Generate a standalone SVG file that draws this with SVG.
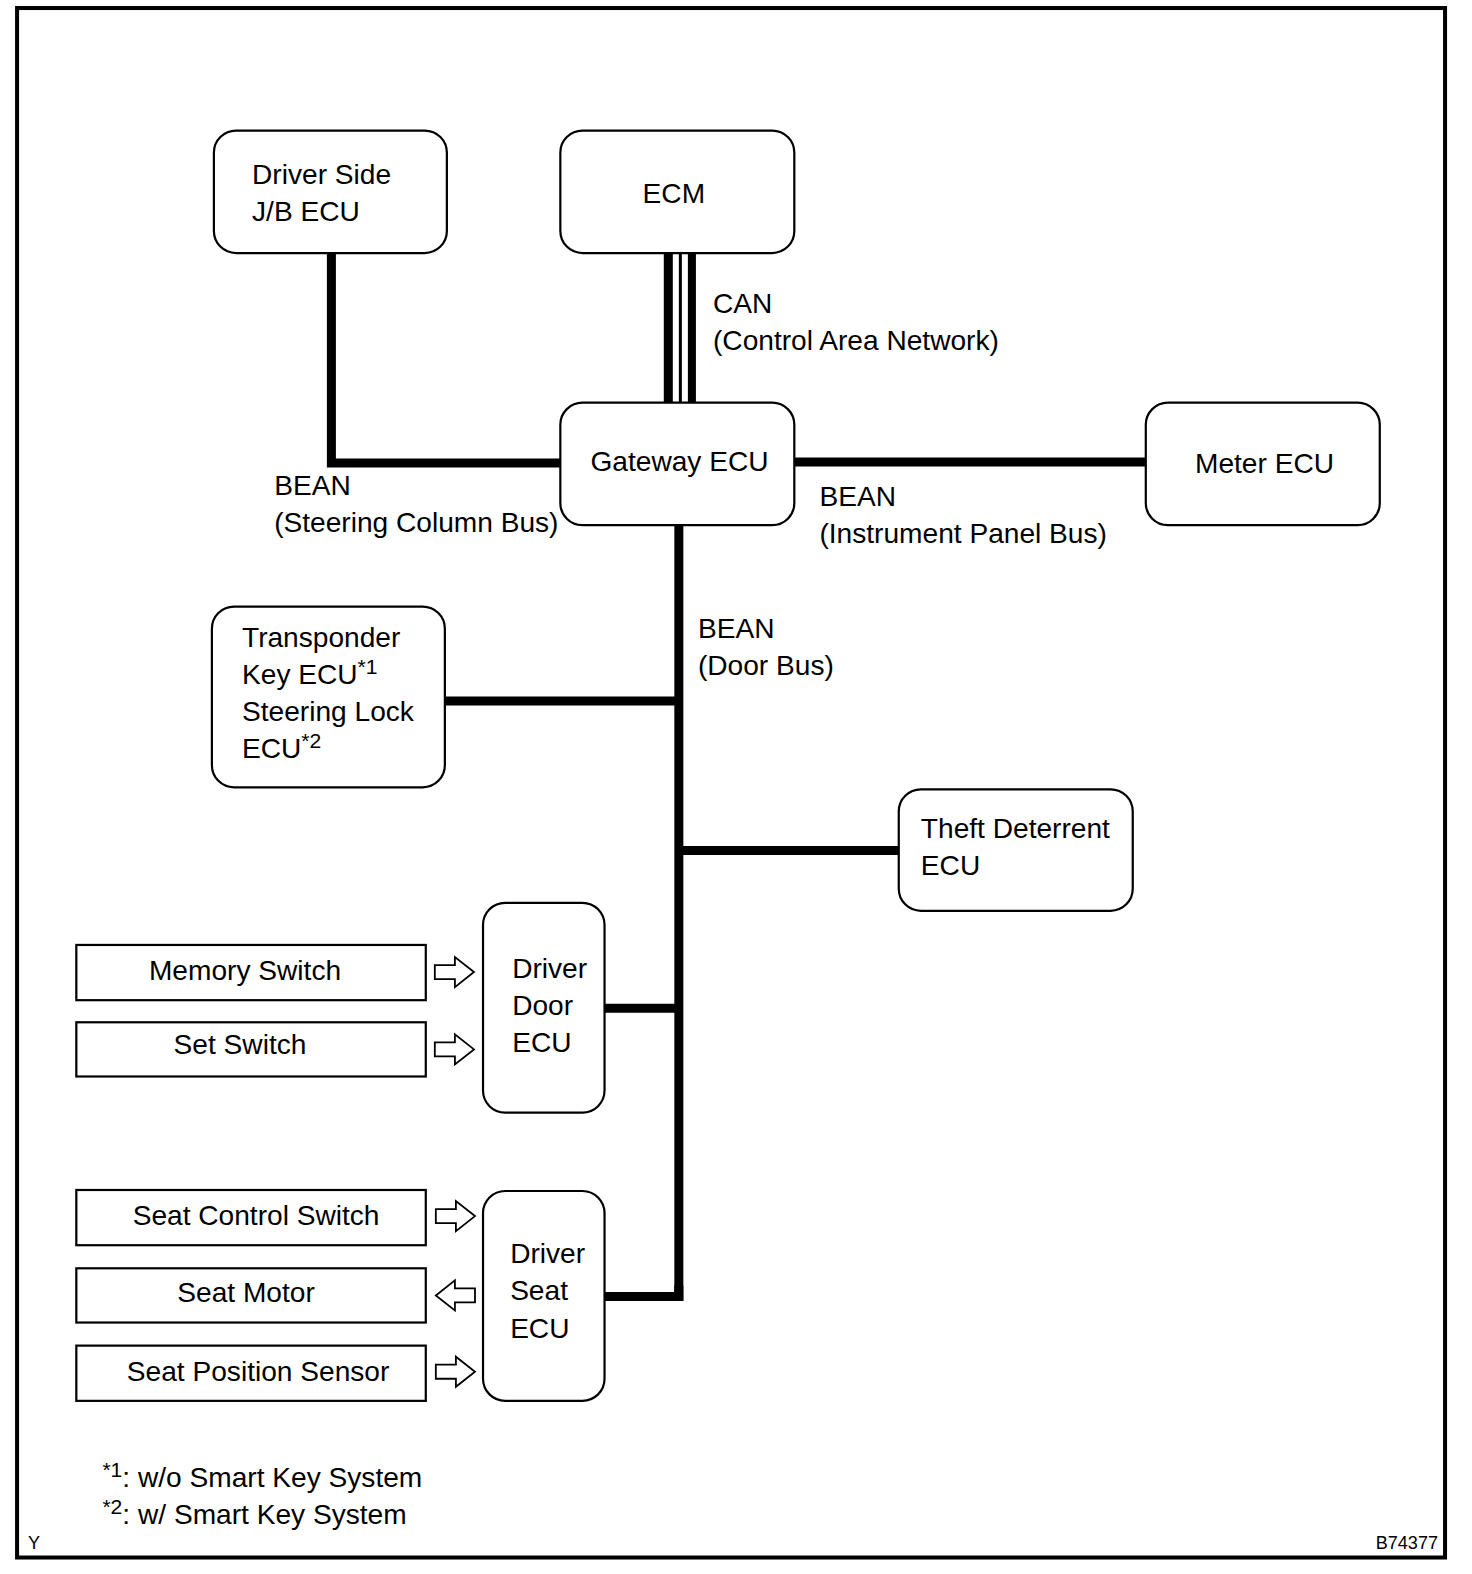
<svg xmlns="http://www.w3.org/2000/svg" width="1472" height="1574" viewBox="0 0 1472 1574">
<style>
text{font-family:"Liberation Sans",Arial,sans-serif;font-size:28px;fill:#000}
.node{fill:#fff;stroke:#000;stroke-width:2.2}
.sw{fill:#fff;stroke:#000;stroke-width:2.2}
.bus{stroke:#000;stroke-width:9;fill:none}
.arr{fill:#fff;stroke:#000;stroke-width:1.8;stroke-linejoin:miter}
.sup{font-size:21px}
.small{font-size:18px}
</style>
<rect x="0" y="0" width="1472" height="1574" fill="#fff"/>
<g transform="scale(1.0042)">
<rect x="17" y="8" width="1422" height="1543" fill="none" stroke="#000" stroke-width="4"/>
<g id="connectors">
<polyline class="bus" points="330,252 330,461 558,461"/>
<line class="bus" x1="791" y1="460" x2="1141" y2="460"/>
<line class="bus" x1="676" y1="523" x2="676" y2="1295"/>
<line class="bus" x1="443" y1="698" x2="676" y2="698"/>
<line class="bus" x1="676" y1="847" x2="895" y2="847"/>
<line class="bus" x1="602" y1="1004" x2="676" y2="1004"/>
<polyline class="bus" points="602,1291 676,1291 676,1280"/>
<rect x="661" y="252" width="9" height="149" fill="#000"/>
<rect x="676" y="252" width="3" height="149" fill="#000"/>
<rect x="685" y="252" width="8" height="149" fill="#000"/>
<polygon class="arr" points="433,961 453,961 453,953 472,968 453,983 453,975 433,975"/>
<polygon class="arr" points="433,1038 453,1038 453,1030 472,1045 453,1060 453,1052 433,1052"/>
<polygon class="arr" points="434,1204 454,1204 454,1196 473,1211 454,1226 454,1218 434,1218"/>
<polygon class="arr" points="473,1283 453,1283 453,1275 434,1290 453,1305 453,1297 473,1297"/>
<polygon class="arr" points="434,1359 454,1359 454,1351 473,1366 454,1381 454,1373 434,1373"/>
</g>
<g id="jb"><rect class="node" x="213" y="130" width="232" height="122" rx="22"/><text x="251" y="183">Driver Side</text><text x="251" y="220">J/B ECU</text></g>
<g id="ecm"><rect class="node" x="558" y="130" width="233" height="122" rx="22"/><text x="671" y="202" text-anchor="middle">ECM</text></g>
<g id="can-label"><text x="710" y="312">CAN</text><text x="710" y="349">(Control Area Network)</text></g>
<g id="gateway"><rect class="node" x="558" y="401" width="233" height="122" rx="22"/><text x="588" y="469">Gateway ECU</text></g>
<g id="meter"><rect class="node" x="1141" y="401" width="233" height="122" rx="22"/><text x="1190" y="471">Meter ECU</text></g>
<g id="bean1"><text x="273" y="493">BEAN</text><text x="273" y="530">(Steering Column Bus)</text></g>
<g id="bean2"><text x="816" y="504">BEAN</text><text x="816" y="541">(Instrument Panel Bus)</text></g>
<g id="bean3"><text x="695" y="635">BEAN</text><text x="695" y="672">(Door Bus)</text></g>
<g id="transponder"><rect class="node" x="211" y="604" width="232" height="180" rx="22"/>
<text x="241" y="644">Transponder</text>
<text x="241" y="681">Key ECU<tspan class="sup" dy="-10">*1</tspan></text>
<text x="241" y="718">Steering Lock</text>
<text x="241" y="755">ECU<tspan class="sup" dy="-10">*2</tspan></text></g>
<g id="theft"><rect class="node" x="895" y="786" width="233" height="121" rx="22"/><text x="917" y="834">Theft Deterrent</text><text x="917" y="871">ECU</text></g>
<g id="door"><rect class="node" x="481" y="899" width="121" height="209" rx="22"/><text x="510" y="974">Driver</text><text x="510" y="1011">Door</text><text x="510" y="1048">ECU</text></g>
<g id="seat"><rect class="node" x="481" y="1186" width="121" height="209" rx="22"/><text x="508" y="1258">Driver</text><text x="508" y="1295">Seat</text><text x="508" y="1332">ECU</text></g>
<g id="memory"><rect class="sw" x="76" y="941" width="348" height="55"/><text x="244" y="976" text-anchor="middle">Memory Switch</text></g>
<g id="set"><rect class="sw" x="76" y="1018" width="348" height="54"/><text x="239" y="1050" text-anchor="middle">Set Switch</text></g>
<g id="seatctl"><rect class="sw" x="76" y="1185" width="348" height="55"/><text x="255" y="1220" text-anchor="middle">Seat Control Switch</text></g>
<g id="motor"><rect class="sw" x="76" y="1263" width="348" height="54"/><text x="245" y="1297" text-anchor="middle">Seat Motor</text></g>
<g id="possensor"><rect class="sw" x="76" y="1340" width="348" height="55"/><text x="257" y="1375" text-anchor="middle">Seat Position Sensor</text></g>
<g id="notes">
<text x="102" y="1481"><tspan class="sup" dy="-10">*1</tspan><tspan dy="10">: w/o Smart Key System</tspan></text>
<text x="102" y="1518"><tspan class="sup" dy="-10">*2</tspan><tspan dy="10">: w/ Smart Key System</tspan></text>
<text class="small" x="28" y="1543">Y</text>
<text class="small" x="1432" y="1543" text-anchor="end">B74377</text>
</g>
</g>
</svg>
